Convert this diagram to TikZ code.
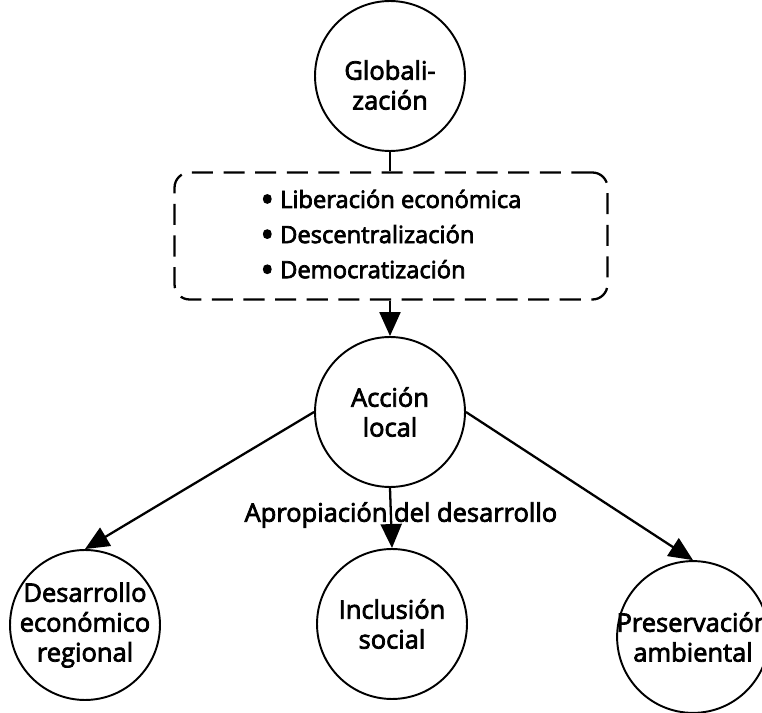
\documentclass[tikz,border=0pt]{standalone}
\usepackage{fontspec}
\setmainfont{Open Sans}[UprightFeatures={FakeBold=3}]
\usetikzlibrary{shapes,arrows.meta,positioning}

\newcommand{\punto}{\raisebox{-0.17em}{\scalebox{1.5}{•}}\ }

\tikzset{
	bubble/.style={draw,circle,line width=1.1pt,minimum size=3cm,inner sep=-2pt,align=center,font=\fontsize{14.5}{17}\selectfont},
	listbox/.style={draw,dash pattern=on 12pt off 6pt,line width=1.3pt,rounded corners=0.3cm,minimum width=8.66cm,minimum height=2.54cm,align=left,font=\fontsize{13.5}{20}\selectfont},
	flecha/.style={line width=1.3pt,-{Triangle[length=0.48cm,width=0.42cm]}},
}

\begin{document}
\begin{tikzpicture}[x=0.02cm,y=-0.02cm]
	\useasboundingbox (0,0) rectangle (762,713);

	\node[bubble](glob) at (390,76){\rule{0pt}{0.75cm}Globali-\\zación};
	\node[listbox](lista) at (391,236){\punto Liberación económica\\\punto Descentralización\\\punto Democratización};
	\node[bubble](accion) at (390,412){Acción\\local};

	\node[bubble](desarrollo) at (85,625){Desarrollo\\económico\\regional};
	\node[bubble](inclusion) at (392,624){Inclusión\\social};
	\node[bubble](preserv) at (693,637){Preservación\\ambiental};

	\draw[line width=1.3pt] (glob.south) -- (glob.south |- lista.north);
	\draw[flecha] (lista.south -| accion.north) -- (accion.north);

	\draw[flecha] (accion.west) -- (desarrollo.north);
	\draw[flecha] (accion.south) -- node[pos=0.45,font=\fontsize{14.5}{17}\selectfont,xshift=0.2cm]{Apropiación del desarrollo} (inclusion.north);
	\draw[flecha] (accion.east) -- (preserv.north);
\end{tikzpicture}
\end{document}
